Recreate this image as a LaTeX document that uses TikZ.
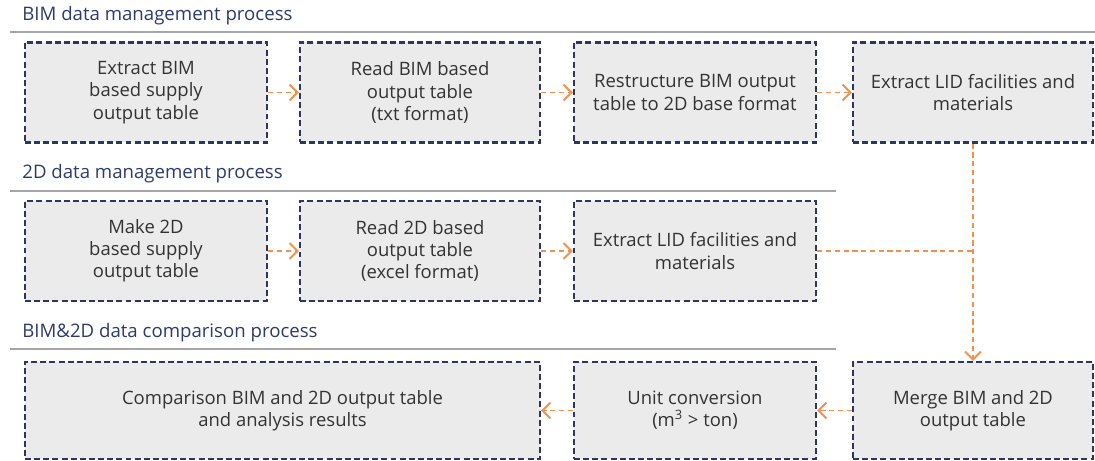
\documentclass[tikz,border=0pt]{standalone}
\usepackage{fontspec}
\setmainfont{Open Sans}
\usetikzlibrary{arrows.meta}
\definecolor{boxline}{HTML}{2E3560}
\definecolor{boxfill}{HTML}{EBEBEB}
\definecolor{flow}{HTML}{F4904A}
\definecolor{headtext}{HTML}{2E3A6E}
\definecolor{bodytext}{HTML}{333333}

\begin{document}
\begin{tikzpicture}%
        [box/.style={draw=boxline,fill=boxfill,line width=1.3pt,dash pattern=on 3.4pt off 1.8pt,
                     text=bodytext,align=center,font=\fontsize{10.5}{12.6}\selectfont,
                     minimum height=2cm,inner sep=2pt},
        head/.style={anchor=west,text=headtext,font=\fontsize{10.6}{12}\selectfont,inner sep=0pt},
        rule/.style={draw=black!35,line width=0.6pt},
        flowline/.style={draw=flow,line width=1.1pt,dash pattern=on 3pt off 2pt},
        flowarrow/.style={flowline,-{Straight Barb[length=4.5pt,width=9pt,line width=1.1pt]}}]

    \useasboundingbox (0,0) rectangle (21.9,-9.22);

    %% Section headers
    \node[head] (hbim) at (0.44,-0.32) {BIM data management process};
    \draw[rule] (0.2,-0.64) -- (21.9,-0.64);
    \node[head] (htwo) at (0.44,-3.48) {2D data management process};
    \draw[rule] (0.2,-3.82) -- (16.72,-3.82);
    \node[head] (hcmp) at (0.44,-6.66) {BIM\&2D data comparison process};
    \draw[rule] (0.2,-6.98) -- (16.72,-6.98);

    %% BIM row
    \node[box,minimum width=4.84cm] (b11) at (2.92,-1.85) {Extract BIM\\based supply\\output table};
    \node[box,minimum width=4.80cm] (b12) at (8.40,-1.85) {Read BIM based\\output table\\(txt format)};
    \node[box,minimum width=4.84cm] (b13) at (13.90,-1.85) {Restructure BIM output\\table to 2D base format};
    \node[box,minimum width=4.80cm] (b14) at (19.46,-1.85) {Extract LID facilities and\\materials};

    %% 2D row
    \node[box,minimum width=4.84cm] (b21) at (2.92,-5.02) {Make 2D\\based supply\\output table};
    \node[box,minimum width=4.80cm] (b22) at (8.40,-5.02) {Read 2D based\\output table\\(excel format)};
    \node[box,minimum width=4.84cm] (b23) at (13.90,-5.02) {Extract LID facilities and\\materials};

    %% Comparison row
    \node[box,minimum width=10.3cm,minimum height=1.94cm] (b31) at (5.65,-8.21) {Comparison BIM and 2D output table\\and analysis results};
    \node[box,minimum width=4.84cm,minimum height=1.94cm] (b32) at (13.90,-8.21) {Unit conversion\\(m\textsuperscript{3} > ton)};
    \node[box,minimum width=4.80cm,minimum height=1.94cm] (b33) at (19.46,-8.21) {Merge BIM and 2D\\output table};

    %% Flow
    \draw[flowarrow] (b11) -- (b12);
    \draw[flowarrow] (b12) -- (b13);
    \draw[flowarrow] (b13) -- (b14);
    \draw[flowarrow] (b21) -- (b22);
    \draw[flowarrow] (b22) -- (b23);
    \coordinate (join) at (b14.south |- b23.east);
    \draw[flowline] (b23.east) -- (join);
    \draw[flowarrow] (b14.south) -- (b33.north);
    \draw[flowarrow] (b33) -- (b32);
    \draw[flowarrow] (b32) -- (b31);
\end{tikzpicture}
\end{document}
